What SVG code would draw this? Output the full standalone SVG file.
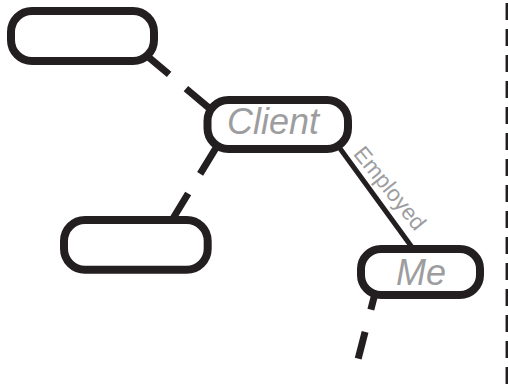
<svg xmlns="http://www.w3.org/2000/svg" width="508" height="385" viewBox="0 0 508 385">
  <style>
    .node { fill: #ffffff; stroke: #231f20; stroke-width: 8; }
    .dash { fill: none; stroke: #231f20; stroke-width: 7; stroke-linecap: butt; }
    .solid { fill: none; stroke: #231f20; stroke-width: 5; }
    .label { font-family: "Liberation Sans", Arial, sans-serif; font-style: italic; font-size: 36px; fill: #9d9d9f; }
    .elabel { font-family: "Liberation Sans", Arial, sans-serif; font-size: 22.5px; fill: #9d9d9f; }
  </style>
  <rect width="508" height="385" fill="#ffffff"/>
  <g id="connectors">
    <line class="dash" x1="140" y1="50" x2="215" y2="113" stroke-dasharray="38 22 80"/>
    <line class="dash" x1="222" y1="138" x2="169" y2="225" stroke-dasharray="42 23 80"/>
    <line class="solid" x1="336" y1="143" x2="414" y2="250"/>
    <line class="dash" x1="378" y1="282" x2="358.2" y2="358.6" stroke-dasharray="28.6 23 40"/>
    <text class="elabel" x="384" y="193" text-anchor="middle" transform="rotate(51 384 193)">Employed</text>
  </g>
  <g id="right-rule">
    <line x1="506.8" y1="3" x2="506.8" y2="385" stroke="#231f20" stroke-width="2.5" stroke-dasharray="17 9"/>
  </g>
  <g id="node-top">
    <rect class="node" x="11" y="11" width="143" height="50" rx="21"/>
  </g>
  <g id="node-client">
    <rect class="node" x="207.5" y="100" width="140.5" height="49" rx="21"/>
    <text class="label" x="227" y="134">Client</text>
  </g>
  <g id="node-bottom">
    <rect class="node" x="64" y="220" width="143.7" height="49.7" rx="21"/>
  </g>
  <g id="node-me">
    <rect class="node" x="361" y="249" width="119" height="46" rx="20"/>
    <text class="label" x="396" y="285">Me</text>
  </g>
</svg>
